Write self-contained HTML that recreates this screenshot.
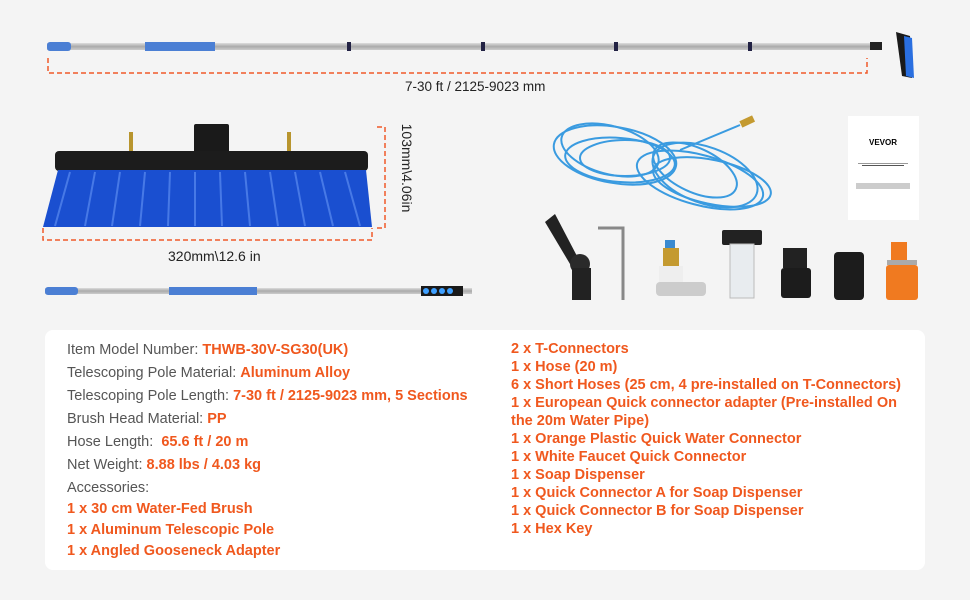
<!DOCTYPE html>
<html><head><meta charset="utf-8"><style>
body{margin:0;width:970px;height:600px;background:#f4f4f4;font-family:"Liberation Sans",sans-serif;position:relative;overflow:hidden}
.t{position:absolute;white-space:nowrap}
.box{position:absolute;left:45px;top:330px;width:880px;height:240px;background:#fff;border-radius:8px}
.l{position:absolute;left:67px;font-size:14.5px;color:#555;white-space:nowrap}
.l b,.o{color:#f0581e;font-weight:bold}
.r{position:absolute;left:511px;font-size:14.5px;color:#f0581e;font-weight:bold;white-space:nowrap}
</style></head><body>
<svg width="970" height="330" style="position:absolute;left:0;top:0">
<defs><linearGradient id="al" x1="0" y1="0" x2="0" y2="1"><stop offset="0" stop-color="#ddd"/><stop offset=".5" stop-color="#aaa"/><stop offset="1" stop-color="#ccc"/></linearGradient></defs>
<rect x="47" y="43" width="825" height="7" fill="url(#al)"/>
<rect x="47" y="42" width="24" height="9" rx="3" fill="#4b7fd4"/>
<rect x="145" y="42" width="70" height="9" fill="#4b7fd4"/>
<rect x="347" y="42" width="4" height="9" fill="#224"/><rect x="481" y="42" width="4" height="9" fill="#224"/><rect x="614" y="42" width="4" height="9" fill="#224"/><rect x="748" y="42" width="4" height="9" fill="#224"/>
<rect x="870" y="42" width="12" height="8" fill="#222"/>
<polygon points="896,32 910,36 912,78 902,76" fill="#1a1a1a"/>
<polygon points="904,36 912,38 914,78 906,76" fill="#2a6fe0"/>
<path d="M48 58 V73 H867 V58" fill="none" stroke="#f05a2a" stroke-width="1.5" stroke-dasharray="5 3"/>
<rect x="194" y="124" width="35" height="30" fill="#1a1a1a" rx="2"/>
<rect x="129" y="132" width="4" height="22" fill="#b8952e"/><rect x="287" y="132" width="4" height="22" fill="#b8952e"/>
<rect x="55" y="151" width="313" height="20" rx="4" fill="#1c1c1c"/>
<polygon points="58,170 366,170 372,227 43,227" fill="#1a4fd0"/>
<g stroke="#5b8cf0" stroke-width="2" opacity=".7">
<line x1="70" y1="172" x2="55" y2="226"/><line x1="95" y1="172" x2="85" y2="226"/><line x1="120" y1="172" x2="112" y2="226"/><line x1="145" y1="172" x2="140" y2="226"/><line x1="170" y1="172" x2="168" y2="226"/><line x1="195" y1="172" x2="195" y2="226"/><line x1="220" y1="172" x2="222" y2="226"/><line x1="245" y1="172" x2="250" y2="226"/><line x1="270" y1="172" x2="278" y2="226"/><line x1="295" y1="172" x2="305" y2="226"/><line x1="320" y1="172" x2="333" y2="226"/><line x1="345" y1="172" x2="360" y2="226"/></g>
<path d="M43 228 V240 H372 V228" fill="none" stroke="#f05a2a" stroke-width="1.5" stroke-dasharray="5 3"/>
<path d="M377 127 H385 V228 H377" fill="none" stroke="#f05a2a" stroke-width="1.5" stroke-dasharray="5 3"/>
<rect x="45" y="288" width="427" height="6" fill="url(#al)"/>
<rect x="45" y="287" width="33" height="8" rx="3" fill="#4b7fd4"/>
<rect x="169" y="287" width="88" height="8" fill="#4b7fd4"/>
<rect x="421" y="286" width="42" height="10" fill="#1a1a1a"/>
<circle cx="426" cy="291" r="3" fill="#3fa0ff"/><circle cx="434" cy="291" r="3" fill="#3fa0ff"/><circle cx="442" cy="291" r="3" fill="#3fa0ff"/><circle cx="450" cy="291" r="3" fill="#3fa0ff"/>
<g fill="none" stroke="#3a9be0" stroke-width="2">
<ellipse cx="615" cy="155" rx="62" ry="28" transform="rotate(10 615 155)"/>
<ellipse cx="700" cy="180" rx="65" ry="25" transform="rotate(15 700 180)"/>
<ellipse cx="620" cy="160" rx="55" ry="22" transform="rotate(5 620 160)"/>
<ellipse cx="705" cy="175" rx="55" ry="28" transform="rotate(20 705 175)"/>
<ellipse cx="610" cy="150" rx="50" ry="24" transform="rotate(15 610 150)"/>
<ellipse cx="712" cy="182" rx="60" ry="22" transform="rotate(12 712 182)"/>
<ellipse cx="625" cy="158" rx="45" ry="18" transform="rotate(0 625 158)"/>
<ellipse cx="695" cy="170" rx="45" ry="22" transform="rotate(25 695 170)"/>
<path d="M680 150 L740 125"/></g>
<rect x="740" y="118" width="14" height="7" fill="#c49a30" transform="rotate(-25 747 121)"/>
<rect x="848" y="116" width="71" height="104" fill="#fff"/>
<text x="883" y="145" font-size="8" font-weight="bold" text-anchor="middle" font-family="Liberation Sans">VEVOR</text>
<rect x="858" y="163" width="50" height="1" fill="#999"/><rect x="862" y="165" width="42" height="1" fill="#555"/>
<rect x="856" y="183" width="54" height="6" fill="#ccc"/>
<polygon points="545,222 555,214 578,258 570,264" fill="#222"/>
<circle cx="580" cy="264" r="10" fill="#2a2a2a"/>
<rect x="572" y="268" width="19" height="32" fill="#222"/>
<path d="M598 228 H623 V300" fill="none" stroke="#888" stroke-width="3"/>
<rect x="665" y="240" width="10" height="10" fill="#3a8ad0"/>
<rect x="663" y="248" width="16" height="18" fill="#c49a30"/>
<rect x="659" y="266" width="24" height="16" fill="#eee"/>
<rect x="656" y="282" width="50" height="14" fill="#ccc" rx="4"/>
<rect x="722" y="230" width="40" height="15" fill="#222" rx="2"/>
<rect x="730" y="244" width="24" height="54" fill="#e8ecef" stroke="#bbb"/>
<rect x="783" y="248" width="24" height="20" fill="#222"/>
<rect x="781" y="268" width="30" height="30" fill="#1c1c1c" rx="3"/>
<rect x="834" y="252" width="30" height="48" fill="#1c1c1c" rx="4"/>
<rect x="891" y="242" width="16" height="18" fill="#f07a20"/>
<rect x="887" y="260" width="30" height="5" fill="#aaa"/>
<rect x="886" y="265" width="32" height="35" fill="#f07a20" rx="3"/>
</svg>
<div class="t" style="left:405px;top:79px;font-size:13.5px;color:#222">7-30 ft / 2125-9023 mm</div>
<div class="t" style="left:168px;top:248px;font-size:14px;color:#222">320mm\12.6 in</div>
<div class="t" style="left:352px;top:160px;font-size:14px;color:#222;transform:rotate(90deg);transform-origin:center;width:110px;text-align:center">103mm\4.06in</div>
<div class="box"></div>
<div class="l" style="top:342px">Item Model Number: <b>THWB-30V-SG30(UK)</b></div>
<div class="l" style="top:365px">Telescoping Pole Material: <b>Aluminum Alloy</b></div>
<div class="l" style="top:388px">Telescoping Pole Length: <b>7-30 ft / 2125-9023 mm, 5 Sections</b></div>
<div class="l" style="top:411px">Brush Head Material: <b>PP</b></div>
<div class="l" style="top:434px">Hose Length:&nbsp; <b>65.6 ft / 20 m</b></div>
<div class="l" style="top:457px">Net Weight: <b>8.88 lbs / 4.03 kg</b></div>
<div class="l" style="top:480px">Accessories:</div>
<div class="l o" style="top:501px">1 x 30 cm Water-Fed Brush</div>
<div class="l o" style="top:522px">1 x Aluminum Telescopic Pole</div>
<div class="l o" style="top:543px">1 x Angled Gooseneck Adapter</div>
<div class="r" style="top:341px">2 x T-Connectors</div>
<div class="r" style="top:359px">1 x Hose (20 m)</div>
<div class="r" style="top:377px">6 x Short Hoses (25 cm, 4 pre-installed on T-Connectors)</div>
<div class="r" style="top:395px">1 x European Quick connector adapter (Pre-installed On</div>
<div class="r" style="top:413px">the 20m Water Pipe)</div>
<div class="r" style="top:431px">1 x Orange Plastic Quick Water Connector</div>
<div class="r" style="top:449px">1 x White Faucet Quick Connector</div>
<div class="r" style="top:467px">1 x Soap Dispenser</div>
<div class="r" style="top:485px">1 x Quick Connector A for Soap Dispenser</div>
<div class="r" style="top:503px">1 x Quick Connector B for Soap Dispenser</div>
<div class="r" style="top:521px">1 x Hex Key</div>
</body></html>
